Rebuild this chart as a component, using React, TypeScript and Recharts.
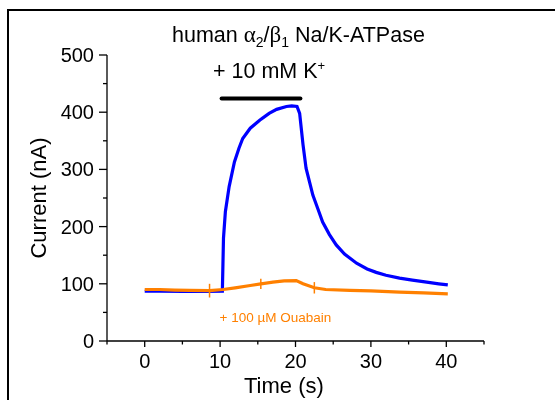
import * as React from "react";
import { LineChart, Line, XAxis, YAxis, ReferenceLine, ErrorBar } from "recharts";

const FONT = '"Liberation Sans", Arial, sans-serif';
const GREEK = '"Liberation Serif", "DejaVu Serif", serif';
const BLUE = "#0000ff";
const ORANGE = "#ff8000";

// control trace (blue), time in s, current in nA
const blueTime = [0, 2, 5, 8, 10.3, 10.45, 10.7, 11.2, 11.9, 12.5, 13.0, 14, 15.25, 16.5, 17.5, 18.8, 19.5, 20.2, 20.55, 21.0, 21.4, 21.9, 22.3, 23.0, 23.6, 24.5, 25.4, 26.5, 28.1, 29.5, 30.7, 32, 33.8, 35.5, 37.4, 39, 40.2];
const blueCurrent = [87, 87, 86.5, 86.5, 87, 180, 226, 270, 313, 337, 354, 372, 386, 398, 405, 410, 411, 410, 398, 343, 302, 276, 255, 230, 208, 186, 168, 152, 136, 126, 120, 115, 110, 106.5, 103, 100, 98];

// ouabain trace (orange)
const orangeTime = [0, 2, 4, 6, 8.6, 10.4, 12, 14, 15.4, 17, 18.5, 20.1, 21, 22.5, 24, 27.2, 30, 33.8, 37, 40.2];
const orangeCurrent = [90, 90, 89, 88.5, 88, 90, 93, 97, 100, 103, 105, 105.5, 100, 93, 90, 88.5, 87.5, 85.5, 84, 82.5];
const orangeErrTime = [8.6, 15.4, 22.5];
const orangeErr = [12, 9, 10];

const xTicks = [-5, 0, 5, 10, 15, 20, 25, 30, 35, 40, 45];
const yTicks = [0, 50, 100, 150, 200, 250, 300, 350, 400, 450, 500];

const blueData = blueTime.map((t, i) => ({ t, v: blueCurrent[i] }));
const orangeData = orangeTime.map((t, i) => {
  const k = orangeErrTime.indexOf(t);
  return { t, v: orangeCurrent[i], err: k >= 0 ? orangeErr[k] : undefined };
});

const XTick = (props: any) => {
  const { x, y, payload } = props;
  const major = payload.value % 10 === 0;
  return (
    <g>
      <line x1={x} x2={x} y1={y} y2={y + (major ? 6 : 3.5)} stroke="#000" strokeWidth={1.3} />
      {major && (
        <text x={x} y={y + 27} textAnchor="middle" fontSize={20} fontFamily={FONT} fill="#000">
          {payload.value}
        </text>
      )}
    </g>
  );
};

const YTick = (props: any) => {
  const { x, y, payload } = props;
  const major = payload.value % 100 === 0;
  return (
    <g>
      <line x1={x - (major ? 8 : 4)} x2={x} y1={y} y2={y} stroke="#000" strokeWidth={1.3} />
      {major && (
        <text x={x - 13} y={y + 7} textAnchor="end" fontSize={20} fontFamily={FONT} fill="#000">
          {payload.value}
        </text>
      )}
    </g>
  );
};

export default function App() {
  return (
    <div
      style={{
        position: "fixed",
        left: 7,
        top: 9,
        borderTop: "2px solid #000",
        borderLeft: "2px solid #000",
        width: 560,
        height: 420,
      }}
    >
      <LineChart width={546} height={391} margin={{ top: 44, right: 71, bottom: 31, left: 58 }}>
        <XAxis
          type="number"
          dataKey="t"
          domain={[-5, 45]}
          ticks={xTicks}
          interval={0}
          height={30}
          tickSize={0}
          tickMargin={0}
          tick={<XTick />}
          axisLine={{ stroke: "#000", strokeWidth: 1.3 }}
          allowDataOverflow
        />
        <YAxis
          type="number"
          domain={[0, 500]}
          ticks={yTicks}
          interval={0}
          width={40}
          tickSize={0}
          tickMargin={0}
          tick={<YTick />}
          axisLine={{ stroke: "#000", strokeWidth: 1.3 }}
          allowDataOverflow
        />
        <ReferenceLine
          segment={[{ x: 10.2, y: 424 }, { x: 20.65, y: 424 }]}
          stroke="#000"
          strokeWidth={4}
          strokeLinecap="round"
          ifOverflow="visible"
        />
        <Line
          data={blueData}
          dataKey="v"
          type="linear"
          stroke={BLUE}
          strokeWidth={3.2}
          dot={false}
          isAnimationActive={false}
        />
        <Line
          data={orangeData}
          dataKey="v"
          type="linear"
          stroke={ORANGE}
          strokeWidth={3.2}
          dot={false}
          isAnimationActive={false}
        >
          <ErrorBar dataKey="err" width={0} stroke={ORANGE} strokeWidth={1.5} direction="y" isAnimationActive={false} />
        </Line>
        <text x={163} y={31} fontSize={21.5} fontFamily={FONT} fill="#000">
          human <tspan fontFamily={GREEK} fontSize={23}>α</tspan>
          <tspan fontSize={14} dy={5}>2</tspan>
          <tspan dy={-5}>/</tspan>
          <tspan fontFamily={GREEK} fontSize={23}>β</tspan>
          <tspan fontSize={14} dy={5}>1</tspan>
          <tspan dy={-5}> Na/K-ATPase</tspan>
        </text>
        <text x={204} y={67} fontSize={21.5} fontFamily={FONT} fill="#000">
          + 10 mM K<tspan fontSize={13} dy={-8}>+</tspan>
        </text>
        <text x={210.5} y={310.5} fontSize={13.5} fontFamily={FONT} fill={ORANGE}>
          + 100 µM Ouabain
        </text>
        <text
          x={37}
          y={187}
          fontSize={22}
          fontFamily={FONT}
          fill="#000"
          textAnchor="middle"
          transform="rotate(-90, 37, 187)"
        >
          Current (nA)
        </text>
        <text x={235} y={382} fontSize={22} fontFamily={FONT} fill="#000">
          Time (s)
        </text>
      </LineChart>
    </div>
  );
}
